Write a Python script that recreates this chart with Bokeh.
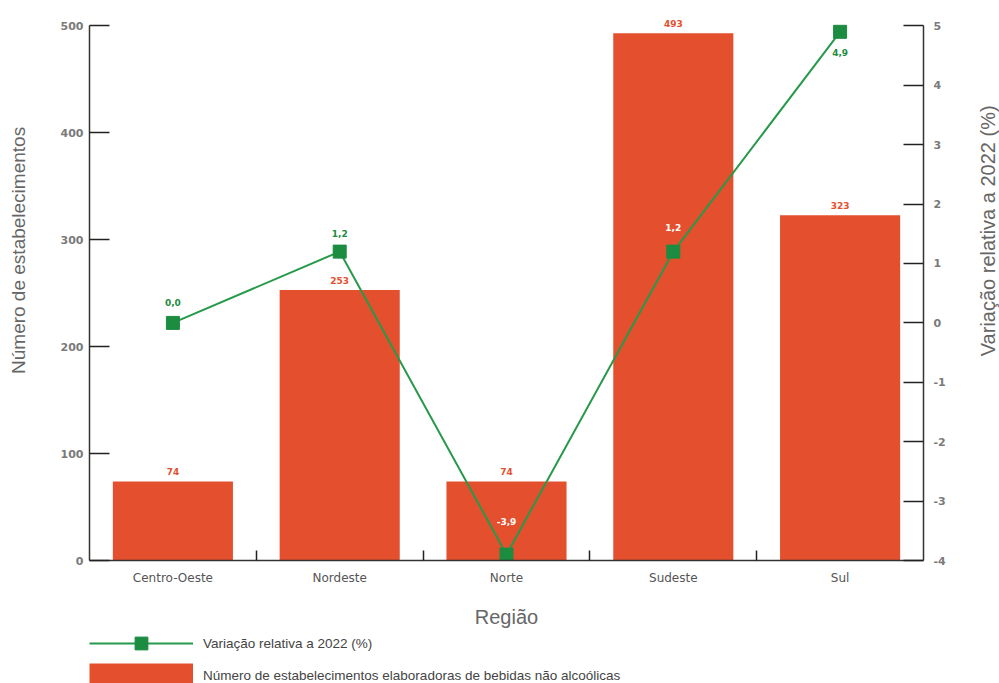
import math
import numpy as np
from bokeh.plotting import figure
from bokeh.layouts import column, row
from bokeh.models import (Range1d, LinearAxis, FixedTicker, ColumnDataSource,
                          Legend, LegendItem)
from bokeh.embed import file_html
from bokeh.resources import INLINE
from bokeh.core.properties import value

# ---- data ----
regions = ["Centro-Oeste", "Nordeste", "Norte", "Sudeste", "Sul"]
establishments = [74, 253, 74, 493, 323]
variation = [0.0, 1.2, -3.9, 1.2, 4.9]
left_ticks = [0, 100, 200, 300, 400, 500]
right_ticks = [-4, -3, -2, -1, 0, 1, 2, 3, 4, 5]

# ---- styles ----
BAR = "#E4502E"
GREEN_LINE = "#26994A"
GREEN_MK = "#1C8C40"
var_label_colors = [GREEN_MK, GREEN_MK, "#FFFFFF", "#FFFFFF", GREEN_MK]
var_label_offsets = [-20, -18, -33, -24, 21]
TOP_PAD = 20                # extra room above 500 for the value labels
LEFT_TITLE_AT = 290         # where the left title is centred (left-axis units)
RIGHT_TITLE_AT = 1.55       # where the right title is centred (right-axis units)

xpos = list(range(len(regions)))
src = ColumnDataSource(dict(
    x=xpos, est=establishments, est_lbl=[str(v) for v in establishments],
    var=variation, var_lbl=[f"{v:.1f}".replace(".", ",") for v in variation],
    var_col=var_label_colors, var_off=var_label_offsets,
))

l0, l1 = left_ticks[0], left_ticks[-1]
r0, r1 = right_ticks[0], right_ticks[-1]
r_top = r0 + (l1 + TOP_PAD - l0) * (r1 - r0) / (l1 - l0)

MAIN_W, MAIN_H, SIDE_W, LEG_H = 975, 630, 24, 53
BORDER_TOP, BORDER_BOTTOM = 4, 70

p = figure(width=MAIN_W, height=MAIN_H, output_backend="svg", toolbar_location=None,
           x_range=Range1d(-0.5, len(regions) - 0.5), y_range=Range1d(l0, l1 + TOP_PAD),
           min_border_left=89, min_border_right=52, min_border_top=BORDER_TOP,
           min_border_bottom=BORDER_BOTTOM)
p.extra_y_ranges = {"pct": Range1d(r0, r_top)}
p.outline_line_color = None
p.xgrid.grid_line_color = None
p.ygrid.grid_line_color = None

bar_r = p.vbar(x="x", top="est", width=0.72, source=src, fill_color=BAR, line_color=None)
p.text(x="x", y="est", text="est_lbl", source=src, text_align="center", text_baseline="bottom",
       y_offset=-6, text_font=value("DejaVu Sans"), text_font_style="bold",
       text_font_size="9px", text_color=BAR)

line_r = p.line(x="x", y="var", source=src, y_range_name="pct", line_color=GREEN_LINE, line_width=2)
sq_r = p.scatter(x="x", y="var", source=src, y_range_name="pct", marker="square", size=13,
                 fill_color=GREEN_MK, line_color=GREEN_MK)
p.text(x="x", y="var", text="var_lbl", source=src, y_range_name="pct", text_align="center",
       text_baseline="middle", y_offset="var_off", text_color="var_col",
       text_font=value("DejaVu Sans"), text_font_style="bold", text_font_size="9px")

# ---- axes ----
tick_font = "DejaVu Sans"

def style_y(ax):
    ax.major_tick_in = 20
    ax.major_tick_out = 0
    ax.minor_tick_in = 0
    ax.minor_tick_out = 0
    ax.axis_line_color = "#333333"
    ax.axis_line_width = 1.5
    ax.major_tick_line_color = "#222222"
    ax.major_tick_line_width = 1.5
    ax.major_label_text_font = tick_font
    ax.major_label_text_font_style = "bold"
    ax.major_label_text_font_size = "11px"
    ax.major_label_text_color = "#7a7a7a"

ya = p.yaxis[0]
ya.ticker = FixedTicker(ticks=left_ticks)
ya.bounds = (l0, l1)
style_y(ya)
ya.major_label_standoff = 6

ra = LinearAxis(y_range_name="pct", ticker=FixedTicker(ticks=right_ticks), bounds=(r0, r1))
style_y(ra)
ra.major_label_standoff = 10
ra.major_label_overrides = {t: str(t) for t in right_ticks}
p.add_layout(ra, "right")

# left axis title: an extra, line-less axis whose only tick label is the title
lt = LinearAxis(ticker=FixedTicker(ticks=[LEFT_TITLE_AT]),
                major_label_overrides={LEFT_TITLE_AT: "Número de estabelecimentos"})
lt.axis_line_color = None
lt.major_tick_line_color = None
lt.minor_tick_line_color = None
lt.major_tick_in = 0
lt.major_tick_out = 0
lt.major_label_standoff = 28
lt.major_label_orientation = "vertical"
lt.major_label_text_font = "Liberation Sans"
lt.major_label_text_font_size = "19px"
lt.major_label_text_color = "#666666"
p.add_layout(lt, "left")

xa = p.xaxis[0]
xa.ticker = FixedTicker(ticks=xpos, minor_ticks=[i + 0.5 for i in xpos[:-1]])
xa.major_label_overrides = {i: r for i, r in zip(xpos, regions)}
xa.major_tick_in = 0
xa.major_tick_out = 0
xa.minor_tick_in = 10
xa.minor_tick_out = 0
xa.minor_tick_line_color = "#222222"
xa.minor_tick_line_width = 1.5
xa.axis_line_color = "#333333"
xa.axis_line_width = 1.5
xa.major_label_standoff = 10
xa.major_label_text_font = tick_font
xa.major_label_text_font_size = "12px"
xa.major_label_text_color = "#555555"
xa.axis_label = "Região"
xa.axis_label_standoff = 18
xa.axis_label_text_font = "Liberation Sans"
xa.axis_label_text_font_style = "normal"
xa.axis_label_text_font_size = "20px"
xa.axis_label_text_color = "#666666"

# ---- right axis title (narrow strip sharing the right-axis range) ----
r = figure(width=SIDE_W, height=MAIN_H, output_backend="svg", toolbar_location=None,
           x_range=Range1d(0, 1), y_range=p.extra_y_ranges["pct"],
           x_axis_type=None, y_axis_type=None,
           min_border_left=0, min_border_right=0, min_border_top=BORDER_TOP,
           min_border_bottom=BORDER_BOTTOM)
r.outline_line_color = None
r.text(x=[0.5], y=[RIGHT_TITLE_AT], text=["Variação relativa a 2022 (%)"], angle=math.pi / 2,
       text_align="center", text_baseline="middle", text_font=value("Liberation Sans"),
       text_font_size="20px", text_color="#666666")

# ---- legend (separate strip below the chart) ----
q = figure(width=MAIN_W, height=LEG_H, output_backend="svg", toolbar_location=None,
           min_border_left=88, min_border_right=0, min_border_top=0, min_border_bottom=0,
           x_axis_type=None, y_axis_type=None)
q.outline_line_color = None
lg_line = q.line(x="x", y="var", source=src, line_color=GREEN_LINE, line_width=2, visible=False)
lg_sq = q.scatter(x="x", y="var", source=src, marker="square", fill_color=GREEN_MK,
                  line_color=GREEN_MK, visible=False)
lg_bar = q.line(x="x", y="est", source=src, line_color=BAR, line_width=24, visible=False)

legend = Legend(items=[
    LegendItem(label="Variação relativa a 2022 (%)", renderers=[lg_line, lg_sq]),
    LegendItem(label="Número de estabelecimentos elaboradoras de bebidas não alcoólicas", renderers=[lg_bar]),
], location=(0, -8), orientation="vertical", glyph_width=104, glyph_height=32, spacing=0,
   padding=0, margin=0, label_standoff=10, border_line_color=None, background_fill_alpha=0,
   label_text_font="Liberation Sans", label_text_font_size="13.5px", label_text_color="#444444")
q.add_layout(legend)

layout = row(column(p, q, spacing=0), r, spacing=0)
open("out.html", "w").write(file_html(layout, INLINE))
